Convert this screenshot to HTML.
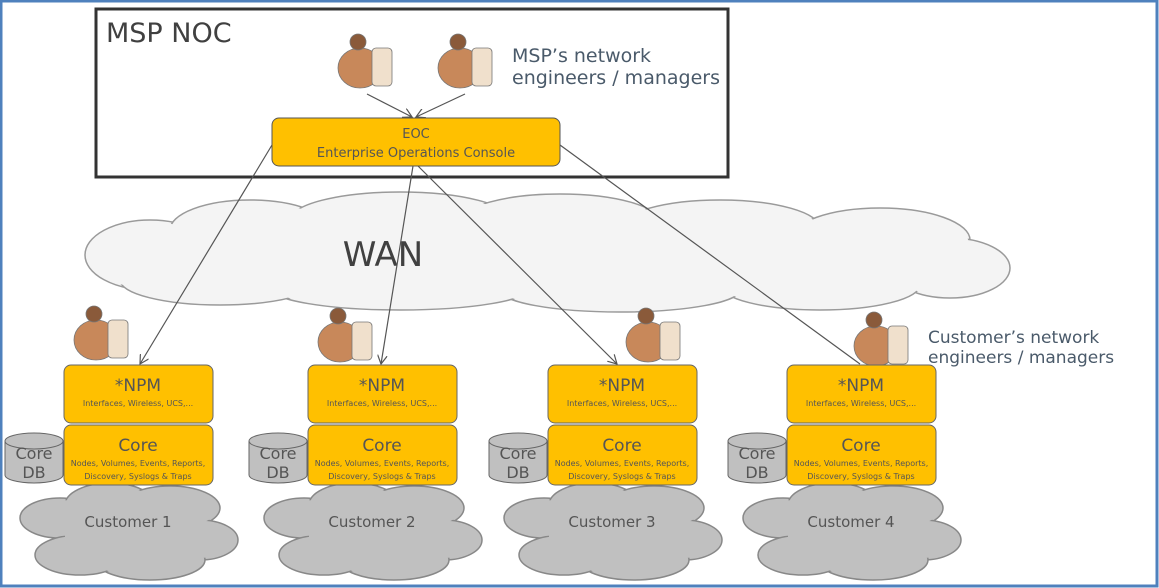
<!DOCTYPE html>
<html><head><meta charset="utf-8"><style>
html,body{margin:0;padding:0;background:#fff;}
svg{display:block;font-family:"DejaVu Sans","Liberation Sans",sans-serif;}
</style></head><body>
<svg width="1159" height="588" viewBox="0 0 1159 588" xmlns="http://www.w3.org/2000/svg">
<defs>
<marker id="ar" markerWidth="10" markerHeight="10" refX="9" refY="5" orient="auto" markerUnits="userSpaceOnUse">
<path d="M0,0 L9,5 L0,10" fill="none" stroke="#555" stroke-width="1.2"/>
</marker>
</defs>
<rect x="1" y="1" width="1156" height="585" fill="#fff" stroke="#4f81bd" stroke-width="3"/>

<!-- WAN cloud -->
<g fill="#f4f4f4" stroke="#9a9a9a" stroke-width="1.5">
<ellipse cx="150" cy="255" rx="65" ry="35"/><ellipse cx="250" cy="230" rx="80" ry="30"/>
<ellipse cx="400" cy="220" rx="110" ry="28"/><ellipse cx="560" cy="222" rx="100" ry="28"/>
<ellipse cx="720" cy="228" rx="100" ry="28"/><ellipse cx="880" cy="240" rx="90" ry="32"/>
<ellipse cx="950" cy="268" rx="60" ry="30"/><ellipse cx="820" cy="285" rx="100" ry="25"/>
<ellipse cx="620" cy="290" rx="120" ry="22"/><ellipse cx="400" cy="288" rx="130" ry="22"/>
<ellipse cx="220" cy="280" rx="100" ry="25"/>
</g>
<g fill="#f4f4f4">
<ellipse cx="150" cy="255" rx="63" ry="33"/><ellipse cx="250" cy="230" rx="78" ry="28"/>
<ellipse cx="400" cy="220" rx="108" ry="26"/><ellipse cx="560" cy="222" rx="98" ry="26"/>
<ellipse cx="720" cy="228" rx="98" ry="26"/><ellipse cx="880" cy="240" rx="88" ry="30"/>
<ellipse cx="950" cy="268" rx="58" ry="28"/><ellipse cx="820" cy="285" rx="98" ry="23"/>
<ellipse cx="620" cy="290" rx="118" ry="20"/><ellipse cx="400" cy="288" rx="128" ry="20"/>
<ellipse cx="220" cy="280" rx="98" ry="23"/><rect x="180" y="230" width="720" height="60"/>
</g>
<text x="383" y="266" font-size="34" fill="#404040" text-anchor="middle">WAN</text>

<!-- MSP NOC -->
<rect x="96" y="9" width="632" height="168" fill="none" stroke="#333" stroke-width="3"/>
<text x="106" y="42" font-size="27" fill="#404040">MSP NOC</text>
<text x="512" y="62" font-size="19" fill="#4a5a6a">MSP’s network</text>
<text x="512" y="84" font-size="19" fill="#4a5a6a">engineers / managers</text>

<!-- connectors -->
<g stroke="#555" stroke-width="1.2" fill="none">
<line x1="367" y1="94" x2="412" y2="117" marker-end="url(#ar)"/>
<line x1="465" y1="94" x2="416" y2="117" marker-end="url(#ar)"/>
<line x1="272" y1="145" x2="140" y2="364" marker-end="url(#ar)"/>
<line x1="413" y1="166" x2="381" y2="364" marker-end="url(#ar)"/>
<line x1="418" y1="166" x2="617" y2="364" marker-end="url(#ar)"/>
<line x1="560" y1="145" x2="860" y2="364"/>
</g>

<rect x="272" y="118" width="288" height="48" rx="7" fill="#ffc000" stroke="#555" stroke-width="1"/>
<text x="416" y="138" font-size="13" fill="#555" text-anchor="middle">EOC</text>
<text x="416" y="157" font-size="13" fill="#555" text-anchor="middle">Enterprise Operations Console</text>

<!-- people -->
<g fill="#c8885a" stroke="#777" stroke-width="0.8">
<g transform="translate(332,28)"><ellipse cx="28" cy="40" rx="22" ry="20"/><circle cx="26" cy="14" r="8" fill="#8a5a3a"/><rect x="40" y="20" width="20" height="38" rx="4" fill="#f0e0cc"/></g>
<g transform="translate(432,28)"><ellipse cx="28" cy="40" rx="22" ry="20"/><circle cx="26" cy="14" r="8" fill="#8a5a3a"/><rect x="40" y="20" width="20" height="38" rx="4" fill="#f0e0cc"/></g>
<g transform="translate(68,300)"><ellipse cx="28" cy="40" rx="22" ry="20"/><circle cx="26" cy="14" r="8" fill="#8a5a3a"/><rect x="40" y="20" width="20" height="38" rx="4" fill="#f0e0cc"/></g>
<g transform="translate(312,302)"><ellipse cx="28" cy="40" rx="22" ry="20"/><circle cx="26" cy="14" r="8" fill="#8a5a3a"/><rect x="40" y="20" width="20" height="38" rx="4" fill="#f0e0cc"/></g>
<g transform="translate(620,302)"><ellipse cx="28" cy="40" rx="22" ry="20"/><circle cx="26" cy="14" r="8" fill="#8a5a3a"/><rect x="40" y="20" width="20" height="38" rx="4" fill="#f0e0cc"/></g>
<g transform="translate(848,306)"><ellipse cx="28" cy="40" rx="22" ry="20"/><circle cx="26" cy="14" r="8" fill="#8a5a3a"/><rect x="40" y="20" width="20" height="38" rx="4" fill="#f0e0cc"/></g>
</g>
<text x="928" y="343" font-size="17" fill="#4a5a6a">Customer’s network</text>
<text x="928" y="363" font-size="17" fill="#4a5a6a">engineers / managers</text>

<!-- customer clouds -->
<g fill="#c0c0c0" stroke="#888" stroke-width="1.5">
<ellipse cx="60" cy="518" rx="40" ry="20"/><ellipse cx="110" cy="505" rx="45" ry="22"/><ellipse cx="170" cy="508" rx="50" ry="22"/><ellipse cx="200" cy="540" rx="38" ry="20"/><ellipse cx="150" cy="560" rx="55" ry="20"/><ellipse cx="80" cy="555" rx="45" ry="20"/>
<ellipse cx="304" cy="518" rx="40" ry="20"/><ellipse cx="354" cy="505" rx="45" ry="22"/><ellipse cx="414" cy="508" rx="50" ry="22"/><ellipse cx="444" cy="540" rx="38" ry="20"/><ellipse cx="394" cy="560" rx="55" ry="20"/><ellipse cx="324" cy="555" rx="45" ry="20"/>
<ellipse cx="544" cy="518" rx="40" ry="20"/><ellipse cx="594" cy="505" rx="45" ry="22"/><ellipse cx="654" cy="508" rx="50" ry="22"/><ellipse cx="684" cy="540" rx="38" ry="20"/><ellipse cx="634" cy="560" rx="55" ry="20"/><ellipse cx="564" cy="555" rx="45" ry="20"/>
<ellipse cx="783" cy="518" rx="40" ry="20"/><ellipse cx="833" cy="505" rx="45" ry="22"/><ellipse cx="893" cy="508" rx="50" ry="22"/><ellipse cx="923" cy="540" rx="38" ry="20"/><ellipse cx="873" cy="560" rx="55" ry="20"/><ellipse cx="803" cy="555" rx="45" ry="20"/>
</g>
<g fill="#c0c0c0">
<ellipse cx="60" cy="518" rx="38" ry="18"/><ellipse cx="110" cy="505" rx="43" ry="20"/><ellipse cx="170" cy="508" rx="48" ry="20"/><ellipse cx="200" cy="540" rx="36" ry="18"/><ellipse cx="150" cy="560" rx="53" ry="18"/><ellipse cx="80" cy="555" rx="43" ry="18"/><rect x="65" y="510" width="140" height="45"/>
<ellipse cx="304" cy="518" rx="38" ry="18"/><ellipse cx="354" cy="505" rx="43" ry="20"/><ellipse cx="414" cy="508" rx="48" ry="20"/><ellipse cx="444" cy="540" rx="36" ry="18"/><ellipse cx="394" cy="560" rx="53" ry="18"/><ellipse cx="324" cy="555" rx="43" ry="18"/><rect x="309" y="510" width="140" height="45"/>
<ellipse cx="544" cy="518" rx="38" ry="18"/><ellipse cx="594" cy="505" rx="43" ry="20"/><ellipse cx="654" cy="508" rx="48" ry="20"/><ellipse cx="684" cy="540" rx="36" ry="18"/><ellipse cx="634" cy="560" rx="53" ry="18"/><ellipse cx="564" cy="555" rx="43" ry="18"/><rect x="549" y="510" width="140" height="45"/>
<ellipse cx="783" cy="518" rx="38" ry="18"/><ellipse cx="833" cy="505" rx="43" ry="20"/><ellipse cx="893" cy="508" rx="48" ry="20"/><ellipse cx="923" cy="540" rx="36" ry="18"/><ellipse cx="873" cy="560" rx="53" ry="18"/><ellipse cx="803" cy="555" rx="43" ry="18"/><rect x="788" y="510" width="140" height="45"/>
</g>
<g font-size="15" fill="#555" text-anchor="middle">
<text x="128" y="527">Customer 1</text><text x="372" y="527">Customer 2</text><text x="612" y="527">Customer 3</text><text x="851" y="527">Customer 4</text>
</g>

<g stroke="#666" stroke-width="1">
<g fill="#ffc000">
<rect x="64" y="365" width="149" height="58" rx="7"/><rect x="64" y="425" width="149" height="60" rx="7"/>
<rect x="308" y="365" width="149" height="58" rx="7"/><rect x="308" y="425" width="149" height="60" rx="7"/>
<rect x="548" y="365" width="149" height="58" rx="7"/><rect x="548" y="425" width="149" height="60" rx="7"/>
<rect x="787" y="365" width="149" height="58" rx="7"/><rect x="787" y="425" width="149" height="60" rx="7"/>
</g>
<g fill="#c0c0c0">
<path d="M5,441 v34 a29,8 0 0 0 58,0 v-34"/><ellipse cx="34" cy="441" rx="29" ry="8"/>
<path d="M249,441 v34 a29,8 0 0 0 58,0 v-34"/><ellipse cx="278" cy="441" rx="29" ry="8"/>
<path d="M489,441 v34 a29,8 0 0 0 58,0 v-34"/><ellipse cx="518" cy="441" rx="29" ry="8"/>
<path d="M728,441 v34 a29,8 0 0 0 58,0 v-34"/><ellipse cx="757" cy="441" rx="29" ry="8"/>
</g>
</g>
<g fill="#555" text-anchor="middle">
<g font-size="16"><text x="34" y="459">Core</text><text x="34" y="478">DB</text><text x="278" y="459">Core</text><text x="278" y="478">DB</text><text x="518" y="459">Core</text><text x="518" y="478">DB</text><text x="757" y="459">Core</text><text x="757" y="478">DB</text></g>
<g font-size="17"><text x="138" y="391">*NPM</text><text x="382" y="391">*NPM</text><text x="622" y="391">*NPM</text><text x="861" y="391">*NPM</text>
<text x="138" y="451">Core</text><text x="382" y="451">Core</text><text x="622" y="451">Core</text><text x="861" y="451">Core</text></g>
<g font-size="8"><text x="138" y="406">Interfaces, Wireless, UCS,...</text><text x="382" y="406">Interfaces, Wireless, UCS,...</text><text x="622" y="406">Interfaces, Wireless, UCS,...</text><text x="861" y="406">Interfaces, Wireless, UCS,...</text>
<text x="138" y="466">Nodes, Volumes, Events, Reports,</text><text x="382" y="466">Nodes, Volumes, Events, Reports,</text><text x="622" y="466">Nodes, Volumes, Events, Reports,</text><text x="861" y="466">Nodes, Volumes, Events, Reports,</text>
<text x="138" y="479">Discovery, Syslogs &amp; Traps</text><text x="382" y="479">Discovery, Syslogs &amp; Traps</text><text x="622" y="479">Discovery, Syslogs &amp; Traps</text><text x="861" y="479">Discovery, Syslogs &amp; Traps</text></g>
</g>
</svg>
</body></html>
